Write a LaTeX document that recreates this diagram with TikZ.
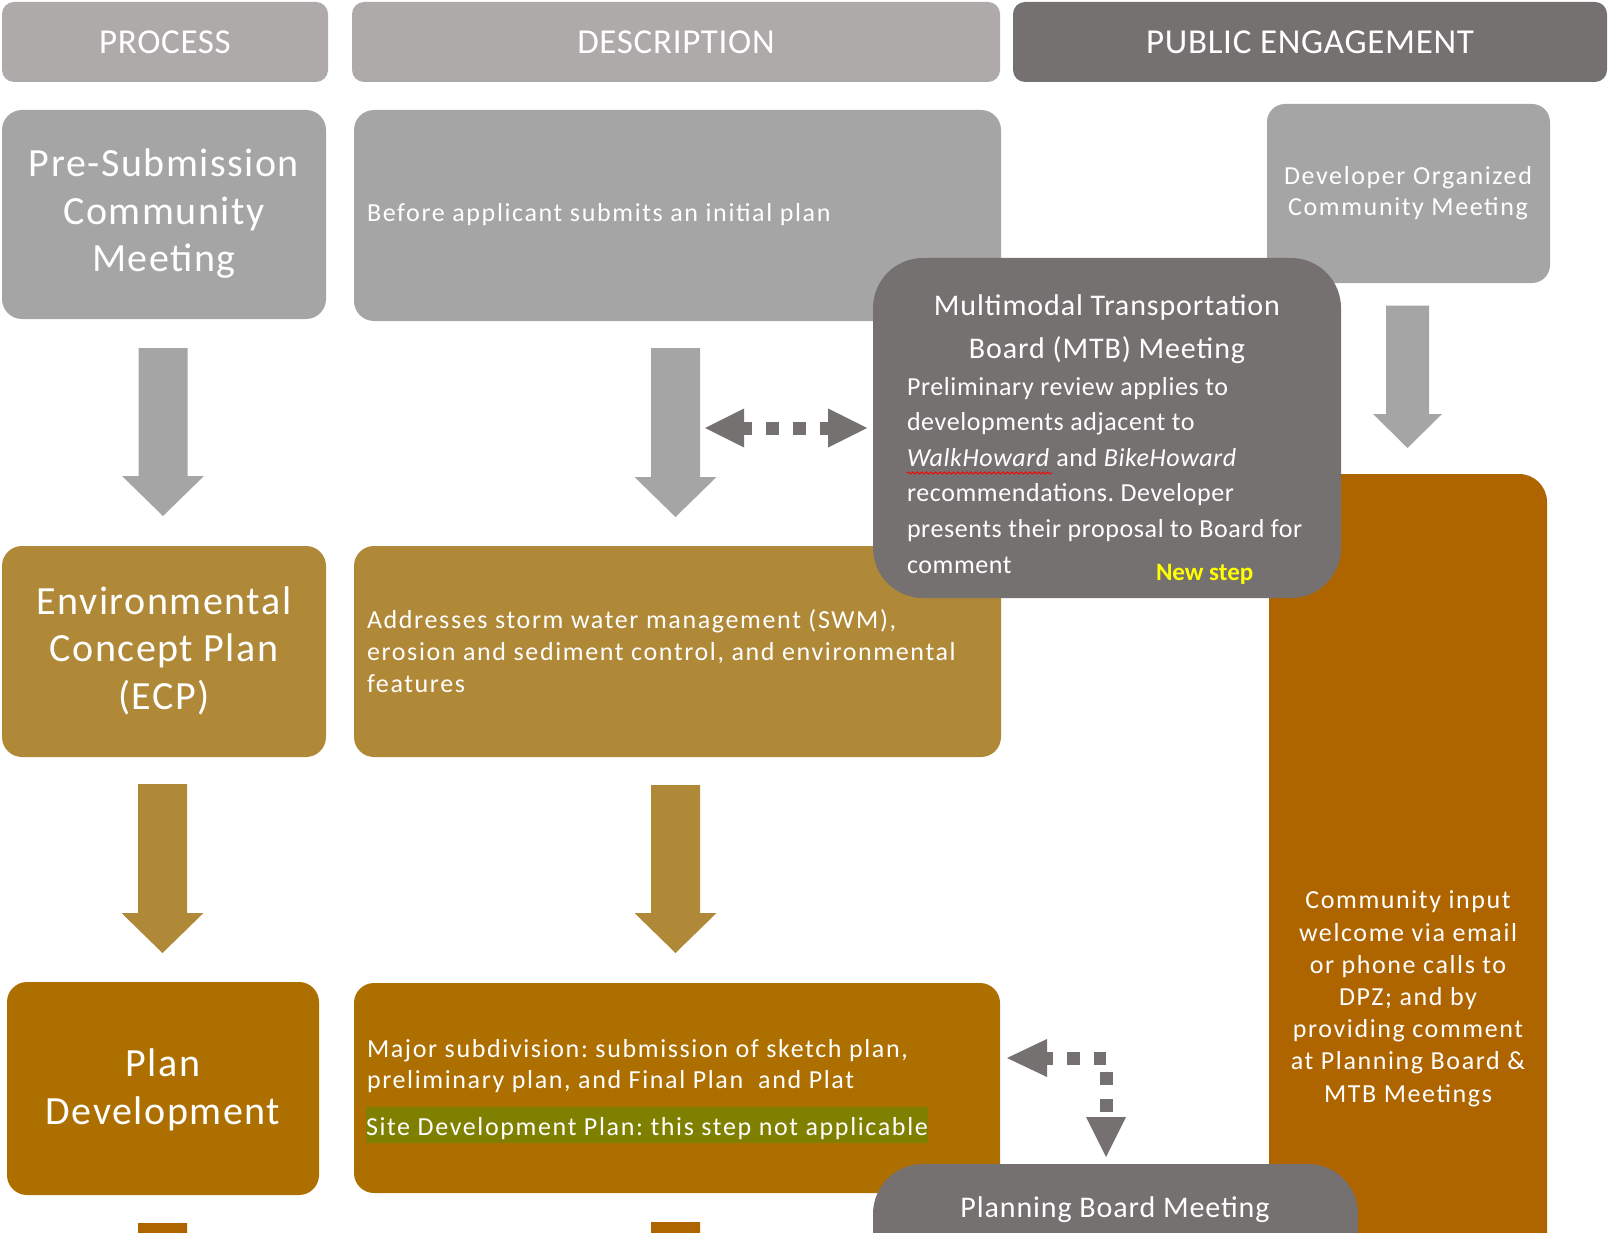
\documentclass[tikz,border=0pt]{standalone}
\usepackage{fontspec}
\setmainfont{Carlito}
\newfontfamily\hdrfam[LetterSpace=2]{Carlito}
\newfontfamily\ttlfam[LetterSpace=3.8]{Carlito}
\newfontfamily\descfam[LetterSpace=6.3]{Carlito}
\newfontfamily\mtbtfam[LetterSpace=3]{Carlito}
\newfontfamily\mtbfam[LetterSpace=2.3]{Carlito}
\newfontfamily\commfam[LetterSpace=6.2]{Carlito}
\usetikzlibrary{calc,decorations.pathmorphing}
\frenchspacing

\definecolor{hdrlight}{HTML}{AEAAAA}
\definecolor{hdrdark}{HTML}{767171}
\definecolor{lgray}{HTML}{A5A5A5}
\definecolor{dgray}{HTML}{767171}
\definecolor{ecpgold}{HTML}{AF8938}
\definecolor{ochre}{HTML}{AD7000}
\definecolor{rust}{HTML}{AE6500}
\definecolor{hlolive}{HTML}{808000}
\definecolor{newyellow}{HTML}{FFFF00}

\newcommand{\hdrfont}{\hdrfam\fontsize{35}{40}\selectfont}
\newcommand{\ttlfont}{\ttlfam\fontsize{40}{47.5}\selectfont}
\newcommand{\descfont}{\descfam\fontsize{26}{32}\selectfont}
\newcommand{\mtbtitlefont}{\mtbtfam\fontsize{30}{43}\selectfont}
\newcommand{\mtbfont}{\mtbfam\fontsize{26}{35.6}\selectfont}
\newcommand{\devfont}{\commfam\fontsize{26}{31}\selectfont}
\newcommand{\commfont}{\commfam\fontsize{26}{32.2}\selectfont}

% block arrow pointing down: #1 colour, #2 top, #3 tip, #4 half shaft, #5 half head, #6 head length
\newcommand{\blockdown}[6]{%
  \fill[#1] ($(#2)+(-#4,0)$) -- ($(#2)+(#4,0)$) -- ($(#3)+(#4,-#6)$) --
    ($(#3)+(#5,-#6)$) -- (#3) -- ($(#3)+(-#5,-#6)$) -- ($(#3)+(-#4,-#6)$) -- cycle;}

\begin{document}
\begin{tikzpicture}[x=1pt,y=-1pt,
  every node/.style={inner sep=0pt,outer sep=0pt},
  hdr/.style={rounded corners=12pt,minimum height=80pt,text=white,font=\hdrfont},
  box/.style={rounded corners=20pt},
  txt/.style={text=white},
  dotline/.style={draw=dgray,line width=13pt,dash pattern=on 13pt off 14pt},
  wavy/.style={draw=red,line width=0.9pt,decorate,decoration={snake,amplitude=1.1pt,segment length=4.5pt}}]

\useasboundingbox (0,0) rectangle (1608,1233);
\clip (0,0) rectangle (1608,1233);

% headers
\node[hdr,fill=hdrlight,minimum width=326pt] (hproc) at (165,42) {PROCESS};
\node[hdr,fill=hdrlight,minimum width=648pt] (hdesc) at (676,42) {DESCRIPTION};
\node[hdr,fill=hdrdark,minimum width=594pt] (hpub) at (1310,42) {PUBLIC ENGAGEMENT};

% row 1
\node[box,fill=lgray,minimum width=324pt,minimum height=209pt] (pre) at (164,214.5) {};
\node[box,fill=lgray,minimum width=647pt,minimum height=211pt] (before) at (677.5,215.5) {};
\node[box,fill=lgray,rounded corners=18pt,minimum width=283pt,minimum height=179pt] (devorg) at (1408.5,193.5) {};

% community input column
\node[box,fill=rust,rounded corners=28pt,minimum width=278pt,minimum height=826pt] (comm) at (1408,887) {};

% row 2
\node[box,fill=ecpgold,minimum width=324pt,minimum height=211pt] (ecp) at (164,651.5) {};
\node[box,fill=ecpgold,minimum width=647pt,minimum height=211pt] (addr) at (677.5,651.5) {};

% row 3
\node[box,fill=ochre,minimum width=312pt,minimum height=213pt] (plandev) at (163,1088.5) {};
\node[box,fill=ochre,minimum width=646pt,minimum height=210pt] (major) at (677,1088) {};

% MTB and planning board
\node[box,fill=dgray,rounded corners=50pt,minimum width=468pt,minimum height=340pt] (mtb) at (1107,428) {};
\node[box,fill=dgray,rounded corners=50pt,minimum width=485pt,minimum height=166pt] (planning) at (1115.5,1247) {};

% texts (anchor base = baseline of the last line)
\node[txt,font=\ttlfont,align=center,anchor=base] (pre-t) at (164,272) {Pre-Submission\\Community\\Meeting};
\node[txt,font=\descfont,anchor=base west] (before-t) at (367,222) {Before applicant submits an initial plan};
\node[txt,font=\devfont,align=center,anchor=base] (devorg-t) at (1408,216) {Developer Organized\\Community Meeting};

\node[txt,font=\ttlfont,align=center,anchor=base] (ecp-t) at (164,709) {Environmental\\Concept Plan\\(ECP)};
\node[txt,font=\descfont,align=left,anchor=base west] (addr-t) at (367,692) {Addresses storm water management (SWM),\\erosion and sediment control, and environmental\\features};

\node[txt,font=\ttlfont,align=center,anchor=base] (plandev-t) at (163,1124) {Plan\\Development};
\node[txt,font=\descfont\fontsize{26}{31}\selectfont,align=left,anchor=base west] (major-t) at (367,1088) {Major subdivision: submission of sketch plan,\\preliminary plan, and Final Plan\ \ and Plat};
\node[txt,font=\descfont,anchor=base west] (site-t) at (366,1135) {{\fboxsep=0pt\colorbox{hlolive}{\rule[-8pt]{0pt}{36pt}Site Development Plan: this step not applicable}}};

\node[txt,font=\mtbtitlefont,align=center,anchor=base] (mtb-title) at (1107,358) {Multimodal Transportation\\Board (MTB) Meeting};
\node[txt,font=\mtbfont,align=left,anchor=base west] (mtb-body) at (907,573) {Preliminary review applies to\\developments adjacent to\\\textit{WalkHoward} and \textit{BikeHoward}\\recommendations. Developer\\presents their proposal to Board for\\comment};
\node[font=\bfseries\fontsize{25}{28}\selectfont,text=newyellow,anchor=base west] (newstep) at (1156,580) {New step};
\draw[wavy] (907,473) -- (1052,473);

\node[txt,font=\commfont,align=center,anchor=base] (comm-t) at (1408,1102) {Community input\\welcome via email\\or phone calls to\\DPZ; and by\\providing comment\\at Planning Board \&\\MTB Meetings};

\node[txt,font=\mtbtitlefont,anchor=base] (planning-t) at (1115,1217) {Planning Board Meeting};

% block arrows
\coordinate (g1s) at ($(pre.south)+(-1,29)$);
\coordinate (g1e) at ($(ecp.north)+(-1,-30)$);
\coordinate (g2s) at ($(before.south)+(-2,27)$);
\coordinate (g2e) at ($(addr.north)+(-2,-29)$);
\coordinate (g3s) at ($(devorg.south)+(-1,22.5)$);
\coordinate (g3e) at ($(comm.north)+(-0.5,-26)$);
\coordinate (o1s) at ($(ecp.south)+(-1.5,27)$);
\coordinate (o1e) at ($(plandev.north)+(-0.5,-29)$);
\coordinate (o2s) at ($(addr.south)+(-2,28)$);
\coordinate (o2e) at ($(major.north)+(-1.5,-30)$);
\coordinate (r1s) at ($(plandev.south)+(-0.5,28)$);
\coordinate (r1e) at ($(plandev.south)+(-0.5,200)$);
\coordinate (r2s) at ($(major.south)+(-1.5,29)$);
\coordinate (r2e) at ($(major.south)+(-1.5,200)$);

\blockdown{lgray}{g1s}{g1e}{24.5}{41}{40}
\blockdown{lgray}{g2s}{g2e}{24.5}{41}{40}
\blockdown{lgray}{g3s}{g3e}{21.5}{34.5}{34}
\blockdown{ecpgold}{o1s}{o1e}{24.5}{41}{40}
\blockdown{ecpgold}{o2s}{o2e}{24.5}{41}{40}
\blockdown{rust}{r1s}{r1e}{24.5}{41}{40}
\blockdown{rust}{r2s}{r2e}{24.5}{41}{40}

% dotted double arrow between description arrow and MTB
\coordinate (dL) at ($(g2s |- mtb.west)+(29.5,0)$);
\coordinate (dR) at ($(mtb.west)+(-6,0)$);
\fill[dgray] (dL) -- ++(39,-19.5) -- ++(0,39) -- cycle;
\fill[dgray] (dR) -- ++(-39,-19.5) -- ++(0,39) -- cycle;
\draw[dotline,dash phase=5pt] ($(dL)+(39,0)$) -- ($(dR)+(-39,0)$);

% dotted elbow arrow: major subdivision <-> planning board
\coordinate (eL) at ($(major.east)+(7,-30)$);
\coordinate (eD) at ($(planning.north)+(-9.5,-7)$);
\coordinate (eC) at (eD |- eL);
\fill[dgray] (eL) -- ++(40,-19) -- ++(0,38) -- cycle;
\fill[dgray] (eD) -- ++(-20,-40) -- ++(40,0) -- cycle;
\draw[dotline,dash phase=7pt] ($(eL)+(40,0.5)$) -- ($(eC)+(0,0.5)$);
\draw[dotline,dash phase=20pt] ($(eC)+(0,7)$) -- ($(eD)+(0,-40)$);

\end{tikzpicture}
\end{document}
